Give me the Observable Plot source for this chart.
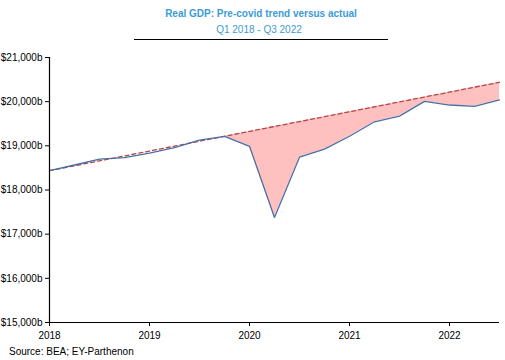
<!DOCTYPE html>
<html>
<head>
<meta charset="utf-8">
<script src="https://cdn.jsdelivr.net/npm/d3@7"></script>
<script src="https://cdn.jsdelivr.net/npm/@observablehq/plot@0.6"></script>
<style>
  html, body { margin: 0; padding: 0; background: #fff; }
  body { width: 505px; height: 360px; position: relative; overflow: hidden; font-family: "Liberation Sans", Arial, sans-serif; }
  #title { position: absolute; left: 0; width: 522px; top: 8px; text-align: center; font-size: 10px; font-weight: bold; color: #3b9bd8; }
  #subtitle { position: absolute; left: 0; width: 518px; top: 24px; text-align: center; font-size: 10px; color: #3b9bd8; }
  #rule { position: absolute; left: 134px; width: 254px; top: 39px; height: 0; border-top: 1px solid #000; }
  #chart { position: absolute; left: 0; top: 0; }
  #source { position: absolute; left: 9px; top: 346px; font-size: 10px; color: #000; }
</style>
</head>
<body>
<div id="chart"></div>
<div id="title">Real GDP: Pre-covid trend versus actual</div>
<div id="subtitle">Q1 2018 - Q3 2022</div>
<div id="rule"></div>
<div id="source">Source: BEA; EY-Parthenon</div>
<script>
const quarters = ["2018Q1","2018Q2","2018Q3","2018Q4","2019Q1","2019Q2","2019Q3","2019Q4",
                  "2020Q1","2020Q2","2020Q3","2020Q4","2021Q1","2021Q2","2021Q3","2021Q4",
                  "2022Q1","2022Q2","2022Q3"];
const actual = [18437, 18566, 18700, 18734, 18835, 18962, 19131, 19216,
                18990, 17379, 18744, 18924, 19216, 19544, 19673, 20006,
                19924, 19895, 20040];
const trend = [18437, 18548, 18660, 18771, 18882, 18993, 19105, 19216,
               19327, 19438, 19549, 19660, 19772, 19883, 19994, 20105,
               20216, 20328, 20439];
const yTicks = [15000, 16000, 17000, 18000, 19000, 20000, 21000];
const xTicks = [2018, 2019, 2020, 2021, 2022];
const gapStart = "2019Q4";

const rows = quarters.map((q, i) => ({
  q,
  t: +q.slice(0, 4) + (+q.slice(5) - 1) / 4,
  actual: actual[i],
  trend: trend[i]
}));
const gapRows = rows.slice(quarters.indexOf(gapStart));

const plot = Plot.plot({
  width: 505,
  height: 343,
  marginTop: 57,
  marginBottom: 21,
  marginLeft: 49,
  marginRight: 6,
  style: { fontFamily: "Liberation Sans, Arial, sans-serif", fontSize: "10px", color: "#000", background: "transparent" },
  x: { domain: [2018, 2022.5] },
  y: { domain: [15000, 21000] },
  marks: [
    Plot.areaY(gapRows, { x: "t", y1: "actual", y2: "trend", fill: "#ffc0c0" }),
    Plot.lineY(rows, { x: "t", y: "trend", stroke: "#b5464a", strokeWidth: 1.3, strokeDasharray: "4,3" }),
    Plot.lineY(rows, { x: "t", y: "actual", stroke: "#4a6fa5", strokeWidth: 1.3 }),
    Plot.axisY({ ticks: yTicks, tickSize: 4, tickPadding: 3, tickFormat: d => "$" + d3.format(",")(d) + "b", label: null, stroke: "#000", fill: "#000" }),
    Plot.axisX({ ticks: xTicks, tickSize: 4, tickPadding: 5, tickFormat: d => String(d), label: null, stroke: "#000", fill: "#000" }),
    Plot.ruleX([2018], { stroke: "#000", strokeWidth: 1.2 }),
    Plot.ruleY([15000], { stroke: "#000", strokeWidth: 1.2 })
  ]
});
document.getElementById("chart").appendChild(plot);
</script>
</body>
</html>
